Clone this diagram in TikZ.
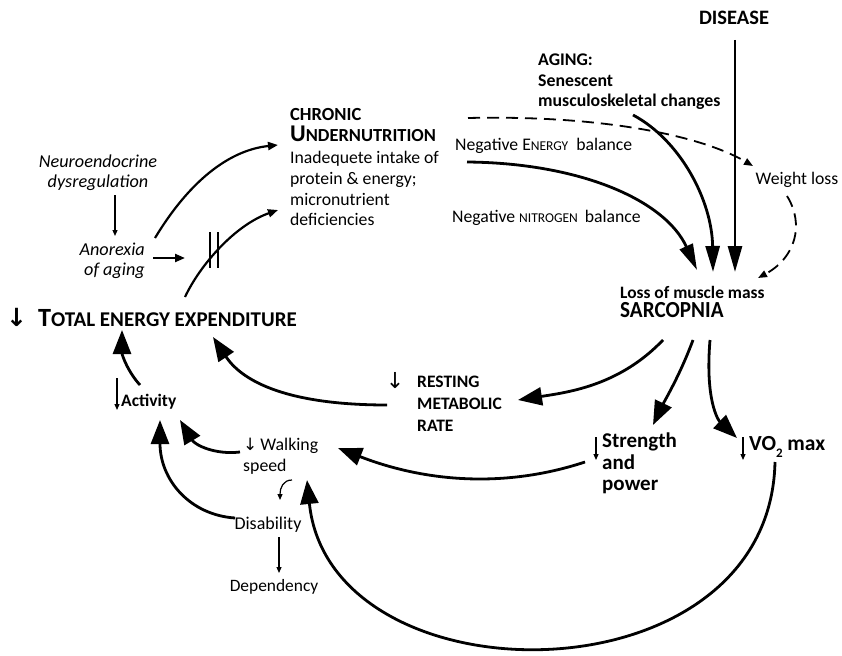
\documentclass[tikz,border=0pt]{standalone}
\usepackage{fontspec}
\setmainfont{Carlito}
\newfontfamily\symfont{DejaVu Sans}
\usetikzlibrary{arrows.meta}
\newcommand\fs[1]{\fontsize{#1}{#1}\selectfont}

\tikzset{
  lbl/.style={inner sep=0pt, font=\fs{17.7}, align=left},
  bigarrow/.style={line width=2.8pt, -{Triangle[length=24pt,width=18pt]}},
  slimarrow/.style={line width=2.8pt, -{Triangle[length=26pt,width=14pt]}},
  midarrow/.style={line width=2.2pt, -{Triangle[length=10pt,width=8pt]}},
  thinarrow/.style={line width=1.2pt, -{Triangle[length=6pt,width=5pt]}},
  dashedarrow/.style={line width=1.8pt, dash pattern=on 12pt off 7pt, -{Triangle[length=9pt,width=7pt]}},
}

\begin{document}
\begin{tikzpicture}[x=1pt,y=-1pt]
\useasboundingbox (0,0) rectangle (842,655);

% ---- labels ----
\node[lbl, font=\fs{20.5}\bfseries] (disease) at (734,18) {DISEASE};
\node[lbl, anchor=north west, font=\fs{17.8}\bfseries]
  (aging) at (538,54) {AGING:\\[2.5pt]Senescent\\[2.5pt]musculoskeletal changes};
\node[lbl] (weight) at (797,180) {Weight loss};
\node[lbl, anchor=west] (negE) at (455,146) {Negative E{\fs{13.5}NERGY}\hspace{4pt} balance};
\node[lbl, anchor=west] (negN) at (452,218) {Negative {\fs{13.5}NITROGEN}\hspace{3pt} balance};
\node[lbl, anchor=north west, font=\fs{17.4}\bfseries]
  (sarc) at (620,286) {Loss of muscle mass\\[2pt]\scalebox{0.92}[1]{\fs{23}SARCOPNIA}};

\node[lbl, anchor=north west] (chronic) at (290,108)
  {{\bfseries\fs{18.5}CHRONIC}\\[3pt]
   {\bfseries{\fs{24}U}{\fs{18.4}NDERNUTRITION}}\\[5pt]
   Inadequete intake of\\[3pt]protein \& energy;\\[3pt]micronutrient\\[3pt]deficiencies};

\node[lbl, align=center, font=\fs{18.2}\itshape] (neuro) at (98,173)
  {Neuroendocrine\\[2pt]dysregulation};
\node[lbl, align=right, anchor=east, font=\fs{18.2}\itshape] (anorexia) at (145,261)
  {Anorexia\\[2pt]of aging};
\coordinate (bars) at (214,250);

\node[lbl, anchor=west, font=\bfseries] (tee) at (6,317)
  {{\symfont\bfseries\fs{25}↓}\hspace{11pt}{\fs{26.3}T}{\fs{21}OTAL ENERGY EXPENDITURE}};

\node[lbl, font=\fs{22}] (rmrdown) at (395,381) {\symfont ↓};
\node[lbl, anchor=north west, font=\fs{17.5}\bfseries] (rmr) at (417,376)
  {RESTING\\[4.5pt]METABOLIC\\[4.5pt]RATE};

\node[lbl, anchor=west, font=\fs{17.5}\bfseries] (activity) at (121,402) {Activity};
\node[lbl, anchor=north west, font=\fs{21}\bfseries] (strength) at (602,433)
  {Strength\\[0.5pt]and\\[0.5pt]power};
\node[lbl, anchor=west, font=\fs{21.5}\bfseries] (vo2) at (749,447)
  {VO\raisebox{-0.3em}{\fs{13}2} max};
\node[lbl, anchor=north west, font=\fs{17.8}] (walk) at (243,438)
  {{\symfont\fs{17}↓}\,Walking\\[3pt]speed};
\node[lbl, font=\fs{18}] (disab) at (268,525) {Disability};
\node[lbl, font=\fs{17.4}] (dep) at (274,587) {Dependency};

% ---- causes of sarcopenia ----
\draw[slimarrow] ([shift={(1,22)}]disease.center) -- ([shift={(115,-14)}]sarc.north west);
\draw[slimarrow] ([shift={(95,61)}]aging.north west)
  .. controls (680,140) and (712,200) .. ([shift={(93,-14)}]sarc.north west);
\draw[slimarrow] ([shift={(12,16)}]negE.west)
  .. controls (580,163) and (665,200) .. ([shift={(77,-16)}]sarc.north west);
\draw[dashedarrow] ([shift={(13,-28)}]negE.west)
  .. controls (600,115) and (700,135) .. ([shift={(-44,-14)}]weight.center);
\draw[dashedarrow] ([shift={(-10,16)}]weight.center)
  .. controls (805,225) and (795,258) .. ([shift={(138,-8)}]sarc.north west);

% ---- undernutrition ----
\draw[thinarrow] ([shift={(17,22)}]neuro.center) -- ([shift={(-30,-25)}]anorexia.east);
\draw[midarrow] ([shift={(8,-3)}]anorexia.east) -- ([shift={(-29,8)}]bars);
\draw[midarrow] ([shift={(10,-23)}]anorexia.east)
  .. controls (190,180) and (230,150) .. ([shift={(-12,37)}]chronic.north west);
\draw[midarrow] ([shift={(179,-20)}]tee.west)
  .. controls (200,265) and (235,225) .. ([shift={(-12,102)}]chronic.north west);
\draw[line width=1.6pt] ([shift={(-4,-18)}]bars) -- ([shift={(-4,18)}]bars)
                        ([shift={(4,-18)}]bars) -- ([shift={(4,18)}]bars);

% ---- energy expenditure ----
\draw[bigarrow] ([shift={(19,-17)}]activity.west)
  .. controls (128,372) and (122,355) .. ([shift={(116,13)}]tee.west);
\draw[bigarrow] ([shift={(-30,29)}]rmr.north west)
  .. controls (280,405) and (240,378) .. ([shift={(207,20)}]tee.west);

% ---- consequences of sarcopenia ----
\draw[bigarrow] ([shift={(43,54)}]sarc.north west)
  .. controls (620,385) and (570,392) .. ([shift={(101,24)}]rmr.north west);
\draw[bigarrow] ([shift={(73,54)}]sarc.north west)
  .. controls (680,375) and (665,400) .. ([shift={(51,-8)}]strength.north west);
\draw[bigarrow] ([shift={(90,54)}]sarc.north west)
  .. controls (705,400) and (718,420) .. ([shift={(-12,-9)}]vo2.west);
\draw[bigarrow] ([shift={(-17,29)}]strength.north west)
  .. controls (500,490) and (420,480) .. ([shift={(95,10)}]walk.north west);
\draw[bigarrow] ([shift={(-3,14)}]walk.north west)
  .. controls (215,455) and (195,445) .. ([shift={(59,18)}]activity.west);
\draw[bigarrow] ([shift={(-33,-7)}]disab.center)
  .. controls (190,515) and (160,480) .. ([shift={(39,18)}]activity.west);
\draw[thinarrow] ([shift={(11,12)}]disab.center) -- ([shift={(5,-14)}]dep.center);
\draw[thinarrow] ([shift={(49,42)}]walk.north west)
  .. controls (283,480) and (280,488) .. ([shift={(12,-25)}]disab.center);
\draw[bigarrow] ([shift={(26,15)}]vo2.west)
  .. controls (770,705) and (330,705) .. ([shift={(64,42)}]walk.north west);

% ---- small decrease marks ----
\draw[thinarrow] ([shift={(-4,-24)}]activity.west) -- ([shift={(-4,8)}]activity.west);
\draw[thinarrow] ([shift={(-6,4)}]strength.north west) -- ([shift={(-6,27)}]strength.north west);
\draw[thinarrow] ([shift={(-6,-10)}]vo2.west) -- ([shift={(-6,13)}]vo2.west);
\end{tikzpicture}
\end{document}
